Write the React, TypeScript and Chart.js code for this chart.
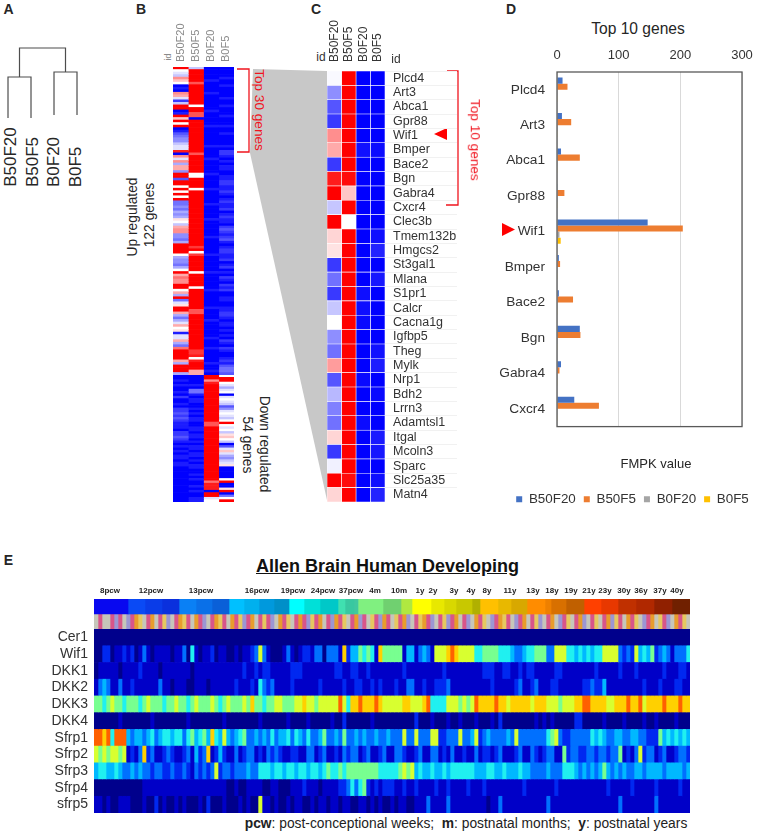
import React, { useEffect, useRef } from "react";
import { Chart, registerables } from "chart.js";

Chart.register(...registerables);

const FONT = '"Liberation Sans", Arial, sans-serif';

// ---------- Panel A ----------
const dendroLeft = [{ x: 0, y: 0 }, { x: 0, y: 41 }, { x: 1, y: 41 }, { x: 1, y: 0 }];
const dendroRight = [{ x: 2, y: 3 }, { x: 2, y: 46 }, { x: 3, y: 46 }, { x: 3, y: 3 }];
const dendroRoot = [{ x: 0.5, y: 41 }, { x: 0.5, y: 70 }, { x: 2.5, y: 70 }, { x: 2.5, y: 46 }];

// ---------- Panel B (-9 blue .. 0 white .. 9 red) ----------
const sampleNames = ["B50F20", "B50F5", "B0F20", "B0F5"];
const upB50F20 = [
  9, 0, -1, -2, 4, 2, 0, -9, -8, -9,
  4, 3, -1, -7, -2, 9, 9, -9, -8, 9,
  2, 9, 0, 9, -9, -8, -6, -5, -4, -4,
  -2, -1, -1, 8, -9, 4, -1, 4, -3, 3,
  3, -4, 9, 9, -6, 9, 9, 0, 9, 0,
  9, 0, 9, -5, -5, -4, -5, -3, -4, -3,
  1, 0, -2, 3, 4, 4, -4, -4, -5, -3,
  9, 9, 9, 9, 0, -3, -4, -4, -5, -3,
  0, 9, 3, 5, 4, 4, 9, 9, 0, 3,
  -3, 9, -5, -1, 1, 9, 9, 3, -3, -5,
  -3, -1, 3, 0, 1, -8, -1, -1, 3, -3,
  -5, 5, 9, 9, 9, 9, 3, -3, 9, 9,
  9, -3,
];
const upB50F5 = [
  -2, 9, 9, 9, 9, 9, 6, 9, 9, 9,
  9, 9, 9, 9, 9, 0, 9, 9, 6, 6,
  -9, 9, 9, 9, 9, 9, 9, 9, 9, 9,
  9, 9, 9, 9, 6, 9, 9, 9, 9, 9,
  9, 9, 0, 0, 9, 9, 9, 9, 0, 9,
  9, 9, 9, 9, 9, 9, 9, 9, 9, 9,
  9, 9, 9, 9, 9, 9, 9, 9, 9, 9,
  9, 7, 9, 0, 7, 9, 9, 9, 9, 9,
  9, 0, 9, 9, 9, 9, 9, 0, 9, 9,
  9, 9, 9, 9, 9, 9, 6, 6, 9, 9,
  9, 9, 9, 9, 9, 9, 9, 9, 9, 9,
  9, 9, 7, 7, 8, 0, 8, 9, 9, 9,
  3, 3,
];
const upB0F20 = [
  -9, -9, -9, -9, -9, -8, -9, -9, -9, -9,
  -8, -9, -9, -9, -9, -9, -9, -8, -9, -9,
  -9, -9, -9, -8, -9, -9, -9, -9, -9, -9,
  -9, -8, -9, -9, -9, -9, -8, -9, -9, -9,
  -9, -9, -8, -9, -9, -9, -9, -9, -8, -9,
  -9, -9, -9, -9, -8, -9, -9, -9, -9, -9,
  -8, -9, -9, -9, -9, -9, -9, -8, -9, -9,
  -9, -9, -9, -9, -8, -9, -9, -9, -9, -9,
  -9, -8, -9, -9, -9, -9, -9, -9, -8, -9,
  -9, -9, -9, -9, -9, -8, -9, -9, -9, -9,
  -8, -9, -9, -9, -9, -9, -9, -8, -9, -9,
  -9, -8, -9, -9, -9, -9, -9, -8, -9, -9,
  -8, -9,
];
const upB0F5 = [
  -9, -9, -9, -9, -8, -9, -9, -8, -9, -9,
  -9, -9, -8, -9, -9, -8, -9, -9, -9, -8,
  -9, -9, -9, -8, -9, -9, -8, -9, -9, -9,
  -9, -8, -9, -7, -7, -8, -9, -8, -9, -8,
  -8, -9, -9, -8, -8, -7, -7, -8, -8, -7,
  -8, -9, -8, -7, -8, -8, -7, -9, -8, -7,
  -8, -8, -9, -7, -6, -7, -8, -7, -6, -8,
  -9, -8, -7, -7, -8, -8, -7, -9, -8, -7,
  -9, -8, -9, -7, -8, -9, -7, -8, -7, -9,
  -9, -8, -8, -9, -9, -8, -8, -7, -7, -8,
  -9, -8, -8, -9, -8, -9, -8, -9, -7, -8,
  -9, -7, -8, -9, -9, -8, -7, -8, -6, -5,
  -5, -6,
];
const downB50F20 = [
  -9, -9, -8, -9, -8, -9, -9, -8, -9, -7,
  -9, -9, -8, -9, -7, -7, -6, -7, -6, -7,
  -8, -8, -8, -9, -7, -7, -6, -7, -8, -9,
  -8, -9, -8, -9, -8, -8, -9, -8, -8, -9,
  -9, -9, -9, -9, -9, -9, -9, -9, -9, -9,
  -9, -9, -9, -9,
];
const downB50F5 = [
  -9, -9, -9, -9, -8, -9, -5, -5, -8, -9,
  -8, -8, -9, -9, -8, -9, -8, -9, -8, -8,
  -9, -9, -8, -8, -9, -8, -8, -9, -8, -9,
  -8, -8, -9, -8, -8, -9, -8, -9, -8, -8,
  -9, -9, -8, -9, -8, -9, -9, -8, -9, -8,
  -9, -9, -8, -8,
];
const downB0F20 = [
  9, 9, 4, 8, 9, 9, 9, 9, 9, 9,
  9, 9, 9, 9, 9, 9, 9, 9, 9, 9,
  6, 6, 9, 9, 9, 9, 9, 9, 9, 9,
  9, 9, 9, 9, 9, 9, 9, 9, 9, 9,
  9, 9, 9, 9, 9, 5, 8, 8, 8, -9,
  9, 9, -1, 0,
];
const downB0F5 = [
  0, 9, 9, 0, -1, -3, -1, 0, -9, -1,
  0, -1, -2, -6, -4, -1, 0, -1, -2, 0,
  9, 0, -1, 0, -2, 1, 2, 0, -2, -9,
  -6, -1, 2, -1, -3, -4, -2, -1, 1, -9,
  -9, -9, -9, -9, 0, 9, -9, -9, 1, 9,
  -9, -5, 0, 9,
];

// ---------- Panel C ----------
const top30Genes = ["Plcd4", "Art3", "Abca1", "Gpr88", "Wif1", "Bmper", "Bace2", "Bgn", "Gabra4", "Cxcr4", "Clec3b", "Tmem132b", "Hmgcs2", "St3gal1", "Mlana", "S1pr1", "Calcr", "Cacna1g", "Igfbp5", "Theg", "Mylk", "Nrp1", "Bdh2", "Lrrn3", "Adamtsl1", "Itgal", "Mcoln3", "Sparc", "Slc25a35", "Matn4"];
const topB50F20 = [-0.2, -4, -6, -7, 4, 3, -7, 8, 9, -2, 9, 1.5, 1, -7, -5, -7, -2, 0, -4, -5, 3.5, -6, -2.5, -4.5, -5, 1.5, -7, -0.5, 9, 1.5];
const topB50F5 = [9, 9, 9, 9, 9, 9, 9, 8.6, 2, 9, 0, 9, 9, 9, 9, 9, 9, 9, 9, 9, 9, 9, 9, 9, 9, 9, 9, 9, 8.6, 9];
const topB0F20 = [-9, -9, -9, -9, -9, -8.4, -9, -9, -9, -9, -9, -9, -9, -9, -9, -8.5, -8.5, -8.7, -9, -9, -9, -8.7, -9, -9, -8.6, -9, -9, -9, -9, -9];
const topB0F5 = [-9, -9, -9, -9, -9, -8.6, -9, -9, -9, -9, -9, -8.5, -7.8, -9, -8.2, -9, -9, -9, -9, -8.4, -8, -9, -8.7, -9, -9, -8.1, -8.2, -9, -8.5, -7.8];

// ---------- Panel D ----------
const top10Genes = ["Plcd4", "Art3", "Abca1", "Gpr88", "Wif1", "Bmper", "Bace2", "Bgn", "Gabra4", "Cxcr4"];
const fpkmB50F20 = [9, 8, 6.5, 1, 147, 3, 3, 37, 6.5, 28];
const fpkmB50F5 = [17, 23, 37, 12, 204, 5, 26, 38, 4, 68];
const fpkmB0F20 = [0.5, 0.5, 0.5, 0.5, 4, 0.5, 0.5, 0.5, 0.5, 0.5];
const fpkmB0F5 = [1, 1, 1, 1, 6, 1, 1, 1, 1, 1];
const xTicksD = [0, 100, 200, 300];

// ---------- Panel E ----------
const ageLabels = ["8pcw", "12pcw", "13pcw", "16pcw", "19pcw", "24pcw", "37pcw", "4m", "10m", "1y", "2y", "3y", "4y", "8y", "11y", "13y", "18y", "19y", "21y", "23y", "30y", "36y", "37y", "40y"];
const ageLabelAt = [16, 57, 107, 163, 199, 229, 257, 281, 305, 326, 339, 360, 377, 393, 416, 439, 458, 477, 495, 511, 530, 547, 566, 583];
const ageWidths = [34, 17, 17, 17, 17, 16, 17, 15, 15, 15, 15, 15, 16, 18, 7, 9, 4, 25, 18, 11, 19, 13, 12, 16, 8, 18, 13, 16, 18, 6, 15, 18, 17, 17, 18, 18, 18, 18];
const ageColors = ["#0808f0", "#0a4af5", "#0a3ce8", "#0a30dd", "#0a80f5", "#0a70e8", "#0a60d8", "#00c0ff", "#00b0ee", "#0099dd", "#008fc8", "#00ffff", "#00e0d8", "#00c8c8", "#40e0b0", "#38c8a0", "#40c8a0", "#80f080", "#70d070", "#b0e840", "#ffff00", "#e8e800", "#d8d800", "#c8c800", "#b0b000", "#ffc000", "#e8b800", "#d8a800", "#ff8c00", "#ee8000", "#d87000", "#c06000", "#ff4000", "#e83800", "#c03000", "#b02800", "#902000", "#702000"];
const stageCodes = [
  3, 0, 3, 3, 0, 4, 0, 3, 4, 0, 1, 2, 3, 0, 1, 3, 0, 2, 4, 3, 0, 1, 2, 0, 3, 1, 0, 4, 3, 0,
  1, 2, 0, 3, 1, 0, 2, 4, 0, 1, 3, 0, 2, 0, 4, 3, 1, 0, 2, 3, 0, 1, 0, 4, 2, 0, 1, 3, 0, 4,
  1, 0, 2, 3, 0, 1, 4, 0, 3, 2, 0, 4, 1, 0, 3, 2, 0, 1, 4, 3, 0, 2, 1, 0, 4, 3, 0, 2, 4, 0,
  1, 3, 0, 4, 3, 1, 0, 2, 3, 4, 0, 1, 2, 0, 3, 4, 0, 1, 3, 0, 2, 4, 3, 0, 1, 3, 4, 0, 2, 3,
  0, 1, 4, 3, 0, 2, 3, 0, 1, 4, 2, 0, 3, 1, 0, 2, 3, 4, 0, 1, 3, 2, 0, 4, 3, 1, 0, 2, 3, 4,
];
const stagePalette = ["#d8558a", "#e89c2c", "#e6c860", "#c6c6ba", "#9c96d4"];
const stageColumnWidth = 4;
const geneNames = ["Cer1", "Wif1", "DKK1", "DKK2", "DKK3", "DKK4", "Sfrp1", "Sfrp2", "Sfrp3", "Sfrp4", "sfrp5"];
const cer1 = [
  0, 0, 0, 0, 0, 0, 0, 0, 0, 0, 0, 0, 0, 0, 0, 0, 0, 0, 0, 0, 0, 0, 0, 0, 0, 0, 0, 0, 0, 0,
  0, 0, 0, 0, 0, 0, 0, 0, 0, 0, 0, 0, 0, 0, 0, 0, 0, 0, 0, 0, 0, 0, 0, 0, 0, 0, 0, 0, 0, 0,
  0, 0, 0, 0, 0, 0, 0, 0, 0, 0, 0, 0, 0, 0, 0, 0, 0, 0, 0, 0, 0, 0, 0, 0, 0, 0, 0, 0, 0, 0,
  0, 0, 0, 0, 0, 0, 0, 0, 0, 0, 0, 0, 0, 0, 0, 0, 0, 0, 0, 0, 0, 0, 0, 0, 0, 0, 0, 0, 0, 0,
  0, 0, 0, 0, 0, 0, 0, 0, 0, 0, 0, 0, 0, 0, 0, 0, 0, 0, 0, 0, 0, 0, 0, 0, 0, 0, 0, 0, 0, 0,
];
const wif1 = [
  0, 0, 2, 2, 0, 1, 1, 2, 1, 2, 0, 1, 3, 1, 0, 1, 1, 1, 1, 0, 1, 1, 3, 0, 5, 1, 0, 1, 1, 2,
  0, 1, 1, 0, 0, 1, 0, 1, 1, 2, 3, 7, 3, 1, 0, 0, 0, 1, 3, 1, 0, 1, 2, 2, 1, 3, 3, 0, 3, 3,
  3, 1, 8, 2, 4, 4, 6, 5, 6, 5, 1, 8, 6, 6, 6, 6, 6, 1, 4, 4, 1, 3, 4, 3, 1, 7, 7, 7, 8, 9,
  8, 7, 7, 7, 7, 5, 5, 6, 6, 6, 6, 5, 5, 5, 4, 3, 3, 4, 5, 5, 6, 6, 6, 3, 3, 7, 7, 7, 5, 5,
  4, 5, 4, 5, 4, 5, 5, 7, 7, 7, 7, 3, 2, 3, 2, 7, 4, 5, 4, 6, 2, 3, 4, 3, 1, 3, 3, 3, 5, 5,
];
const dkk1 = [
  0, 1, 1, 1, 1, 1, 0, 1, 1, 1, 1, 2, 1, 1, 1, 1, 0, 1, 1, 1, 1, 1, 1, 1, 0, 1, 1, 1, 1, 1,
  1, 1, 1, 1, 1, 1, 1, 2, 1, 1, 2, 1, 2, 2, 1, 1, 1, 1, 1, 2, 2, 2, 1, 1, 1, 1, 1, 1, 1, 1,
  2, 2, 1, 1, 2, 2, 1, 1, 2, 1, 1, 1, 1, 1, 1, 1, 1, 2, 1, 1, 1, 1, 1, 1, 1, 1, 1, 2, 1, 1,
  1, 1, 1, 1, 1, 1, 1, 2, 2, 2, 1, 1, 2, 2, 1, 1, 2, 1, 2, 2, 1, 1, 1, 1, 1, 2, 2, 1, 1, 1,
  1, 1, 1, 1, 1, 2, 1, 1, 1, 1, 1, 2, 1, 1, 1, 2, 1, 1, 1, 1, 1, 1, 2, 1, 1, 1, 2, 2, 1, 1,
];
const dkk2 = [
  1, 3, 4, 3, 1, 1, 3, 1, 1, 2, 1, 1, 1, 1, 1, 1, 3, 1, 1, 0, 1, 1, 1, 0, 0, 1, 1, 1, 0, 1,
  1, 1, 1, 1, 1, 2, 1, 1, 1, 2, 1, 5, 3, 2, 3, 1, 1, 1, 1, 2, 1, 1, 1, 1, 1, 1, 2, 1, 1, 1,
  1, 1, 2, 1, 1, 2, 2, 1, 1, 2, 1, 2, 1, 1, 1, 2, 1, 1, 3, 3, 1, 1, 2, 1, 1, 2, 2, 2, 3, 1,
  1, 1, 1, 1, 1, 1, 1, 1, 1, 2, 1, 1, 1, 1, 1, 2, 3, 1, 1, 2, 3, 1, 1, 1, 2, 2, 1, 1, 1, 1,
  1, 1, 2, 2, 3, 2, 2, 4, 1, 1, 1, 1, 1, 1, 1, 1, 1, 2, 1, 1, 1, 2, 1, 1, 1, 2, 2, 1, 1, 2,
];
const dkk3 = [
  6, 6, 5, 6, 7, 6, 6, 5, 6, 6, 6, 5, 6, 7, 6, 6, 6, 5, 6, 6, 7, 6, 6, 5, 6, 7, 6, 6, 6, 7,
  6, 5, 6, 7, 6, 6, 6, 7, 6, 8, 6, 6, 5, 6, 6, 7, 7, 6, 6, 6, 7, 7, 8, 7, 7, 6, 7, 7, 7, 7,
  7, 9, 7, 5, 8, 8, 9, 8, 8, 8, 9, 8, 7, 7, 7, 7, 7, 8, 8, 7, 7, 7, 8, 9, 5, 5, 5, 5, 7, 7,
  7, 6, 7, 6, 7, 9, 8, 8, 8, 8, 9, 8, 8, 7, 8, 8, 8, 8, 8, 7, 8, 8, 8, 7, 7, 7, 6, 7, 7, 7,
  8, 8, 9, 9, 8, 8, 8, 8, 7, 7, 8, 8, 8, 9, 8, 8, 9, 7, 8, 8, 8, 8, 9, 8, 8, 8, 9, 8, 8, 9,
];
const dkk4 = [
  0, 0, 0, 0, 0, 0, 1, 0, 0, 0, 0, 0, 0, 0, 1, 0, 0, 0, 0, 0, 0, 0, 0, 1, 0, 0, 0, 0, 0, 0,
  0, 0, 1, 0, 0, 0, 0, 0, 0, 0, 0, 1, 0, 0, 0, 0, 0, 0, 1, 0, 0, 0, 0, 1, 0, 0, 0, 0, 0, 1,
  0, 0, 2, 0, 0, 0, 0, 0, 0, 1, 0, 0, 0, 0, 0, 0, 0, 0, 0, 0, 2, 0, 0, 0, 1, 0, 0, 0, 1, 0,
  0, 1, 0, 0, 0, 1, 0, 0, 0, 1, 0, 2, 0, 0, 0, 0, 0, 0, 0, 0, 1, 0, 1, 0, 1, 0, 0, 0, 0, 0,
  2, 2, 0, 0, 0, 0, 0, 1, 0, 0, 0, 0, 1, 0, 0, 0, 0, 1, 0, 0, 1, 0, 0, 0, 0, 1, 0, 0, 0, 1,
];
const sfrp1 = [
  9, 9, 8, 9, 5, 9, 9, 9, 4, 3, 4, 4, 3, 4, 5, 3, 4, 5, 5, 4, 5, 5, 3, 5, 6, 4, 5, 6, 4, 8,
  5, 4, 7, 4, 3, 4, 5, 6, 3, 3, 4, 3, 4, 3, 5, 3, 4, 4, 5, 3, 5, 4, 3, 5, 3, 3, 4, 6, 3, 3,
  4, 3, 6, 3, 3, 4, 3, 4, 3, 3, 4, 3, 3, 4, 3, 3, 3, 7, 3, 3, 7, 3, 3, 3, 7, 7, 2, 2, 3, 3,
  3, 7, 3, 3, 4, 7, 2, 3, 4, 3, 3, 3, 3, 4, 3, 7, 3, 3, 3, 3, 3, 3, 3, 5, 6, 7, 3, 2, 2, 3,
  3, 3, 3, 3, 5, 4, 5, 4, 3, 3, 4, 4, 3, 3, 4, 4, 3, 3, 2, 2, 2, 6, 4, 5, 4, 5, 4, 5, 4, 5,
];
const sfrp2 = [
  7, 6, 7, 6, 7, 7, 6, 7, 1, 2, 1, 3, 8, 2, 3, 1, 1, 2, 3, 2, 1, 1, 2, 3, 1, 4, 2, 3, 8, 1,
  2, 4, 2, 1, 1, 3, 1, 2, 3, 3, 1, 2, 1, 3, 2, 3, 2, 1, 1, 2, 2, 1, 1, 3, 3, 1, 2, 3, 1, 1,
  2, 1, 3, 2, 3, 3, 1, 2, 3, 1, 1, 2, 3, 1, 1, 3, 3, 2, 1, 1, 2, 3, 1, 1, 3, 3, 1, 2, 1, 3,
  1, 1, 2, 1, 1, 3, 1, 2, 2, 1, 2, 3, 1, 1, 1, 2, 3, 1, 1, 3, 2, 1, 2, 3, 3, 1, 1, 6, 2, 3,
  3, 2, 2, 3, 3, 2, 3, 3, 2, 3, 3, 6, 1, 2, 1, 3, 7, 2, 3, 3, 1, 2, 3, 1, 1, 2, 3, 3, 2, 3,
];
const sfrp3 = [
  4, 5, 5, 4, 4, 5, 4, 3, 3, 4, 3, 4, 3, 3, 2, 3, 3, 2, 2, 3, 2, 2, 3, 2, 1, 3, 2, 3, 2, 3,
  7, 2, 3, 3, 2, 3, 3, 3, 4, 3, 3, 5, 5, 5, 4, 5, 5, 4, 5, 5, 4, 5, 5, 4, 5, 5, 4, 5, 6, 5,
  5, 6, 5, 6, 6, 6, 6, 6, 6, 6, 6, 5, 5, 5, 5, 5, 6, 7, 6, 7, 4, 5, 4, 4, 5, 4, 4, 5, 4, 5,
  5, 5, 5, 5, 5, 4, 4, 4, 5, 5, 4, 4, 5, 4, 4, 4, 5, 4, 4, 3, 3, 3, 3, 4, 3, 3, 3, 5, 5, 5,
  4, 3, 4, 3, 4, 3, 4, 6, 4, 3, 4, 3, 4, 3, 3, 4, 4, 3, 4, 4, 4, 4, 3, 4, 4, 4, 4, 3, 4, 5,
];
const sfrp4 = [
  0, 0, 0, 0, 0, 0, 0, 0, 0, 0, 0, 0, 1, 1, 1, 1, 1, 1, 1, 1, 1, 1, 1, 1, 1, 1, 1, 1, 1, 1,
  1, 1, 1, 0, 0, 1, 0, 0, 1, 1, 1, 1, 0, 0, 1, 1, 0, 0, 0, 1, 1, 1, 2, 1, 1, 1, 0, 1, 1, 1,
  1, 2, 2, 3, 5, 3, 5, 6, 2, 1, 2, 1, 2, 2, 2, 1, 1, 2, 1, 1, 2, 1, 1, 1, 1, 2, 1, 1, 2, 1,
  1, 1, 1, 2, 1, 1, 1, 2, 1, 1, 1, 1, 1, 1, 1, 1, 1, 2, 1, 1, 1, 1, 1, 1, 1, 2, 1, 1, 1, 1,
  1, 1, 1, 1, 1, 1, 1, 1, 2, 1, 1, 1, 1, 1, 2, 1, 1, 1, 1, 1, 2, 1, 1, 1, 1, 1, 2, 1, 1, 1,
];
const sfrp5 = [
  1, 1, 0, 1, 0, 0, 1, 1, 1, 0, 0, 0, 1, 0, 0, 2, 0, 1, 0, 0, 1, 0, 1, 0, 0, 0, 1, 0, 2, 0,
  0, 0, 1, 0, 0, 0, 1, 0, 1, 0, 0, 7, 1, 1, 0, 1, 0, 0, 1, 0, 1, 1, 0, 0, 1, 0, 1, 1, 0, 1,
  1, 0, 1, 1, 0, 0, 1, 1, 0, 1, 0, 1, 0, 0, 1, 0, 1, 1, 0, 0, 1, 1, 1, 3, 1, 1, 1, 1, 3, 1,
  1, 1, 1, 1, 1, 1, 1, 1, 0, 1, 1, 3, 1, 1, 1, 1, 1, 1, 1, 1, 1, 1, 1, 3, 1, 1, 1, 1, 1, 1,
  1, 1, 1, 1, 1, 1, 1, 1, 1, 1, 1, 3, 1, 1, 1, 1, 1, 1, 1, 1, 3, 1, 1, 1, 1, 1, 1, 1, 1, 1,
];
const jetPalette = ["#00008c", "#0000c8", "#0028f0", "#0070ff", "#00b8ff", "#20f0f0", "#78ff90", "#d8ff30", "#ffd000", "#ff6000"];

const diverging = (v: number) => {
  const k = Math.round(255 * (1 - Math.abs(v) / 9));
  return v >= 0 ? `rgb(255,${k},${k})` : `rgb(${k},${k},255)`;
};

const hiddenScale = (extra: any = {}) => ({ display: false, ...extra });
const noPadding = (s: any) => {
  s.paddingLeft = 0;
  s.paddingRight = 0;
  s.paddingTop = 0;
  s.paddingBottom = 0;
};

function heatChart(canvas: HTMLCanvasElement, rows: string[], cols: number[][], colorOf: (v: number) => string, opts: any = {}) {
  return new Chart(canvas, {
    type: "bar",
    data: {
      labels: rows,
      datasets: cols.map((col, i) => ({
        label: `c${i}`,
        data: col.map(() => 1),
        backgroundColor: col.map(colorOf),
        borderColor: opts.cellBorder ? "#ffffff" : undefined,
        borderWidth: opts.cellBorder ? 0.6 : 0,
        borderSkipped: false,
        barPercentage: 1,
        categoryPercentage: 1,
      })),
    },
    options: {
      indexAxis: "y",
      animation: false,
      responsive: false,
      events: [],
      layout: { padding: 0 },
      plugins: { legend: { display: false }, tooltip: { enabled: false } },
      scales: {
        x: opts.x ?? hiddenScale({ stacked: true, min: 0, max: cols.length }),
        y: opts.y ?? hiddenScale({ stacked: true }),
      },
    } as any,
  } as any);
}

const sampleAxis = (padding: number, height: number, size: number, color: string) => ({
  type: "linear",
  position: "top",
  stacked: true,
  min: 0,
  max: 4,
  border: { display: false },
  grid: { display: false, drawTicks: false },
  afterBuildTicks: (s: any) => {
    s.ticks = sampleNames.map((_, i) => ({ value: i + 0.5 }));
  },
  afterFit: (s: any) => {
    s.height = height;
    noPadding(s);
  },
  ticks: {
    autoSkip: false,
    minRotation: 90,
    maxRotation: 90,
    padding,
    labelOffset: size * 1.2,
    color,
    font: { family: FONT, size },
    callback: (_v: number, i: number) => sampleNames[i],
  },
});

const T = ({ x, y, rot = 0, size = 13, color = "#262626", bold = false, children, style }: any) => (
  <span
    style={{
      position: "absolute",
      left: x,
      top: y,
      transform: `translate(-50%,-50%) rotate(${rot}deg)`,
      fontFamily: FONT,
      fontSize: size,
      fontWeight: bold ? 700 : 400,
      color,
      whiteSpace: "pre",
      lineHeight: 1,
      ...style,
    }}
  >
    {children}
  </span>
);

const canvasBoxes: Record<string, [number, number, number, number]> = {
  dendro: [0, 40, 90, 85],
  up: [173, 18, 61, 357],
  down: [173, 375, 61, 127],
  top30: [327, 14, 135, 488],
  bars: [470, 40, 325, 476],
  age: [94, 585, 596, 44],
  genes: [0, 629, 690, 184],
};

export default function App() {
  const refs = useRef<Record<string, HTMLCanvasElement | null>>({});

  useEffect(() => {
    const c = refs.current as Record<string, HTMLCanvasElement>;
    const charts: Chart[] = [];

    const link = (data: any[]) => ({ data, showLine: true, borderColor: "#4d4d4d", borderWidth: 1.2, pointRadius: 0, tension: 0 });
    charts.push(
      new Chart(c.dendro, {
        type: "scatter",
        data: { datasets: [link(dendroLeft), link(dendroRight), link(dendroRoot)] },
        options: {
          animation: false,
          responsive: false,
          plugins: { legend: { display: false }, tooltip: { enabled: false } },
          scales: { x: hiddenScale({ min: -0.348, max: 3.565 }), y: hiddenScale({ min: -7, max: 78 }) },
        },
      } as any)
    );

    charts.push(
      heatChart(c.up, upB50F20.map((_, i) => `u${i}`), [upB50F20, upB50F5, upB0F20, upB0F5], diverging, {
        x: sampleAxis(5, 49, 11, "#8a8a8a"),
      })
    );
    charts.push(
      heatChart(c.down, downB50F20.map((_, i) => `d${i}`), [downB50F20, downB50F5, downB0F20, downB0F5], diverging, {
        x: hiddenScale({ stacked: true, min: 0, max: 4 }),
      })
    );
    charts.push(
      heatChart(c.top30, top30Genes, [topB50F20, topB50F5, topB0F20, topB0F5], diverging, {
        cellBorder: true,
        x: sampleAxis(9, 57, 12, "#333333"),
        y: {
          position: "right",
          stacked: true,
          border: { display: false },
          grid: { drawOnChartArea: false, tickLength: 72, color: "#f1f1f1" },
          afterFit: (s: any) => {
            s.width = 77;
            noPadding(s);
          },
          ticks: { autoSkip: false, padding: -64, color: "#333333", font: { family: FONT, size: 12.5 } },
        },
      })
    );

    const frame = {
      id: "frame",
      afterDatasetsDraw(chart: any) {
        const { ctx, chartArea: a } = chart;
        ctx.save();
        ctx.strokeStyle = "#595959";
        ctx.lineWidth = 1.3;
        ctx.strokeRect(a.left, a.top, a.right - a.left, a.bottom - a.top);
        ctx.restore();
      },
    };
    const bar = (label: string, data: number[], color: string) => ({ label, data, backgroundColor: color, barPercentage: 1, categoryPercentage: 0.685 });
    charts.push(
      new Chart(c.bars, {
        type: "bar",
        data: {
          labels: top10Genes,
          datasets: [
            bar(sampleNames[0], fpkmB50F20, "#4472c4"),
            bar(sampleNames[1], fpkmB50F5, "#ed7d31"),
            bar(sampleNames[2], fpkmB0F20, "#a5a5a5"),
            bar(sampleNames[3], fpkmB0F5, "#ffc000"),
          ],
        },
        plugins: [frame],
        options: {
          indexAxis: "y",
          animation: false,
          responsive: false,
          layout: { padding: 0 },
          plugins: {
            tooltip: { enabled: false },
            legend: {
              position: "bottom",
              labels: { boxWidth: 6, boxHeight: 6, padding: 8, color: "#333333", font: { family: FONT, size: 13.4 } },
            },
          },
          scales: {
            x: {
              position: "top",
              min: 0,
              max: 300,
              border: { display: false },
              grid: { color: "#d9d9d9", drawTicks: false, lineWidth: 1 },
              afterBuildTicks: (s: any) => {
                s.ticks = xTicksD.map((value) => ({ value }));
              },
              afterFit: (s: any) => {
                s.height = 32;
                noPadding(s);
              },
              ticks: { padding: 9, color: "#333333", font: { family: FONT, size: 13 } },
            },
            y: {
              position: "left",
              border: { display: false },
              grid: { display: false, drawTicks: false },
              afterFit: (s: any) => {
                s.width = 87;
                noPadding(s);
              },
              ticks: { autoSkip: false, padding: 12, color: "#333333", font: { family: FONT, size: 13.7 } },
            },
            spacerRight: {
              type: "linear",
              axis: "y",
              position: "right",
              border: { display: false },
              grid: { display: false, drawTicks: false },
              ticks: { display: false },
              afterFit: (s: any) => {
                s.width = 53;
                noPadding(s);
              },
            },
            spacerBottom: {
              type: "linear",
              axis: "x",
              position: "bottom",
              border: { display: false },
              grid: { display: false, drawTicks: false },
              ticks: { display: false },
              afterFit: (s: any) => {
                s.height = 58;
                noPadding(s);
              },
            },
          },
        },
      } as any)
    );

    charts.push(
      new Chart(c.age, {
        type: "bar",
        data: {
          labels: ["age", "stage"],
          datasets: [
            ...ageWidths.map((w, i) => ({ label: `a${i}`, data: [w, null], backgroundColor: ageColors[i], barPercentage: 1, categoryPercentage: 1 })),
            ...stageCodes.map((s, i) => ({ label: `s${i}`, data: [null, stageColumnWidth], backgroundColor: stagePalette[s], barPercentage: 1, categoryPercentage: 1 })),
          ],
        },
        options: {
          indexAxis: "y",
          animation: false,
          responsive: false,
          events: [],
          plugins: { legend: { display: false }, tooltip: { enabled: false } },
          scales: {
            x: {
              type: "linear",
              position: "top",
              stacked: true,
              min: 0,
              max: 596,
              border: { display: false },
              grid: { display: false, drawTicks: false },
              afterBuildTicks: (s: any) => {
                s.ticks = ageLabelAt.map((value) => ({ value }));
              },
              afterFit: (s: any) => {
                s.height = 14;
                noPadding(s);
              },
              ticks: {
                autoSkip: false,
                maxRotation: 0,
                minRotation: 0,
                padding: 3,
                color: "#222222",
                font: { family: FONT, size: 8, weight: "bold" },
                callback: (v: number) => ageLabels[ageLabelAt.indexOf(v)],
              },
            },
            y: hiddenScale({ stacked: true }),
          },
        },
      } as any)
    );

    const geneRows = [cer1, wif1, dkk1, dkk2, dkk3, dkk4, sfrp1, sfrp2, sfrp3, sfrp4, sfrp5];
    const geneCols = cer1.map((_, col) => geneRows.map((row) => row[col] ?? 0));
    charts.push(
      heatChart(c.genes, geneNames, geneCols, (v) => jetPalette[v], {
        x: hiddenScale({ stacked: true, min: 0, max: 149 }),
        y: {
          stacked: true,
          border: { display: false },
          grid: { display: false, drawTicks: false },
          afterFit: (s: any) => {
            s.width = 94;
            noPadding(s);
          },
          ticks: { autoSkip: false, padding: 6, color: "#333333", font: { family: FONT, size: 14 } },
        },
      })
    );

    return () => charts.forEach((ch) => ch.destroy());
  }, []);

  const red = "#f0141e";
  return (
    <div style={{ position: "absolute", left: 0, top: 0, width: 759, height: 836, overflow: "hidden", background: "#fff", filter: "blur(0.35px)" }}>
      <svg width={759} height={836} style={{ position: "absolute", left: 0, top: 0 }}>
        <polygon points="253,69 327,71 327,500 250,153" fill="#c8c8c8" />
        <polyline points="237,69 249,69 249,152 237,152" fill="none" stroke={red} strokeWidth={1.3} />
        <polyline points="447,71 458,71 458,205 446,205" fill="none" stroke={red} strokeWidth={1.3} />
        <polygon points="434,134 447,128 447,140" fill="#f00" />
        <polygon points="502,223 515,229.5 502,236" fill="#f00" />
      </svg>

      {Object.entries(canvasBoxes).map(([k, [l, t, w, h]]) => (
        <canvas
          key={k}
          ref={(el) => {
            refs.current[k] = el;
          }}
          width={w}
          height={h}
          style={{ position: "absolute", left: l, top: t, width: w, height: h }}
        />
      ))}

      <T x={8.5} y={9} size={14} bold>A</T>
      <T x={141} y={9} size={14} bold>B</T>
      <T x={316} y={9} size={14} bold>C</T>
      <T x={511} y={9} size={14} bold>D</T>
      <T x={8.5} y={560} size={14} bold>E</T>

      <T x={10} y={157} rot={-90} size={17}>B50F20</T>
      <T x={32} y={162} rot={-90} size={17}>B50F5</T>
      <T x={53} y={162} rot={-90} size={17}>B0F20</T>
      <T x={75} y={167} rot={-90} size={17}>B0F5</T>

      <T x={168} y={57} rot={-90} size={9} color="#8a8a8a">id</T>
      <T x={321} y={57} size={12} color="#333">id</T>
      <T x={396} y={59} size={12} color="#333">id</T>

      <T x={133} y={217} rot={-90} size={13.8}>Up regulated</T>
      <T x={150} y={215} rot={-90} size={13.8}>122 genes</T>
      <T x={264} y={443.5} rot={90} size={13.8}>Down regulated</T>
      <T x={247} y={444.5} rot={90} size={13.8}>54 genes</T>
      <T x={259} y={110} rot={90} size={13.6} color={red}>Top 30 genes</T>
      <T x={475} y={140} rot={90} size={13.6} color={red}>Top 10 genes</T>

      <T x={638} y={29} size={15.6}>Top 10 genes</T>
      <T x={656} y={463} size={13}>FMPK value</T>

      <T x={387.5} y={566} size={18} bold color="#111" style={{ textDecoration: "underline" }}>Allen Brain Human Developing</T>
      <T x={466} y={824} size={13.8} color="#222">
        <b>pcw</b>{": post-conceptional weeks;  "}<b>m</b>{": postnatal months;  "}<b>y</b>{": postnatal years"}
      </T>
    </div>
  );
}
